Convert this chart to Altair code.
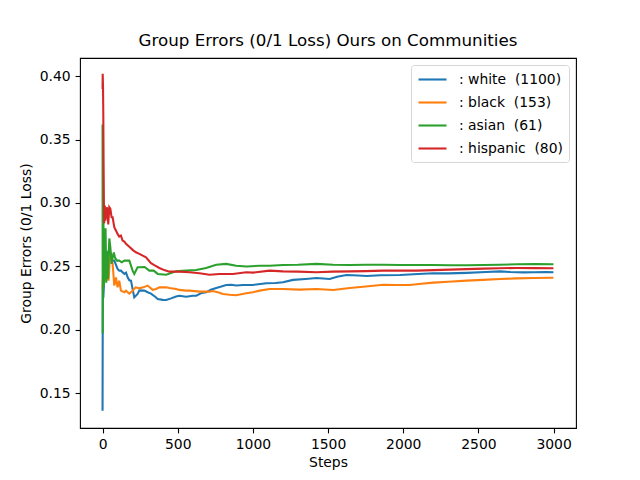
import altair as alt
import pandas as pd

# ---- data ----
white_steps = [0, 1, 2, 5, 11, 20, 33, 45, 56, 67, 78, 100, 111, 122, 145, 156, 167, 178, 189, 200,
               211, 233, 245, 278, 300, 322, 350, 367, 400, 423, 456, 489, 511, 556, 600, 623, 660,
               689, 720, 756, 790, 823, 856, 889, 934, 1000, 1050, 1089, 1150, 1200, 1267, 1350,
               1423, 1511, 1560, 1623, 1700, 1756, 1850, 1978, 2100, 2200, 2300, 2422, 2550, 2645,
               2711, 2800, 2867, 2950, 2999]
white_vals = [0.136, 0.197, 0.232, 0.225, 0.239, 0.245, 0.257, 0.265, 0.257, 0.2545, 0.2545, 0.248,
              0.2466, 0.2466, 0.244, 0.245, 0.2414, 0.239, 0.2387, 0.232, 0.2255, 0.2282, 0.231,
              0.2308, 0.2295, 0.2285, 0.226, 0.2242, 0.2235, 0.2234, 0.2247, 0.2262, 0.2268, 0.226,
              0.2268, 0.2268, 0.229, 0.2295, 0.2315, 0.2329, 0.234, 0.2353, 0.2355, 0.2348, 0.2353,
              0.2353, 0.236, 0.2366, 0.2368, 0.2374, 0.2393, 0.2400, 0.2408, 0.2400, 0.2418, 0.2432,
              0.2428, 0.2424, 0.243, 0.2432, 0.2440, 0.2445, 0.2444, 0.2448, 0.2455, 0.246, 0.2455,
              0.2452, 0.2453, 0.2455, 0.2453]

black_steps = [0, 4, 8, 11, 17, 22, 28, 33, 40, 48, 56, 67, 78, 89, 100, 111, 122, 145, 156, 178,
               200, 220, 245, 270, 300, 333, 356, 378, 423, 445, 489, 511, 556, 578, 645, 711, 734,
               778, 800, 845, 889, 956, 1000, 1045, 1111, 1200, 1311, 1423, 1533, 1645, 1750, 1867,
               1950, 2044, 2120, 2200, 2300, 2422, 2530, 2645, 2750, 2867, 2999]
black_vals = [0.232, 0.245, 0.235, 0.261, 0.2532, 0.2387, 0.2414, 0.2466, 0.2387, 0.255, 0.261,
              0.252, 0.2348, 0.2413, 0.2334, 0.2387, 0.2308, 0.2295, 0.2308, 0.2284, 0.2308, 0.2334,
              0.2326, 0.2334, 0.2348, 0.2314, 0.2321, 0.2334, 0.2334, 0.2329, 0.2321, 0.2314, 0.2308,
              0.2308, 0.2300, 0.2300, 0.2305, 0.2292, 0.2282, 0.2276, 0.2272, 0.2287, 0.2295, 0.2308,
              0.2321, 0.2321, 0.2316, 0.2321, 0.2313, 0.2329, 0.234, 0.2355, 0.2352, 0.2352, 0.2362,
              0.2371, 0.2378, 0.2387, 0.2393, 0.240, 0.2405, 0.2408, 0.241]

asian_steps = [0, 1, 2, 4, 6, 9, 12, 16, 20, 25, 30, 36, 45, 52, 60, 67, 75, 82, 95, 111, 128, 145,
               156, 178, 200, 211, 233, 245, 280, 311, 340, 367, 423, 489, 556, 623, 689, 756, 823,
               889, 956, 1045, 1111, 1200, 1300, 1423, 1533, 1645, 1750, 1867, 1980, 2089, 2200,
               2311, 2420, 2533, 2640, 2756, 2880, 2999]
asian_vals = [0.362, 0.197, 0.30, 0.24, 0.285, 0.235, 0.275, 0.24, 0.28, 0.237, 0.262, 0.24, 0.272,
              0.265, 0.2519, 0.2571, 0.261, 0.2571, 0.2545, 0.2545, 0.2532, 0.2545, 0.2545, 0.2545,
              0.2466, 0.244, 0.2492, 0.2492, 0.2495, 0.2466, 0.2466, 0.244, 0.2434, 0.246, 0.2466,
              0.2471, 0.2487, 0.2513, 0.2519, 0.2505, 0.2498, 0.2505, 0.2505, 0.2511, 0.2513, 0.2519,
              0.2513, 0.2511, 0.2512, 0.2513, 0.2511, 0.2511, 0.2510, 0.2508, 0.2509, 0.2511, 0.2513,
              0.2516, 0.2517, 0.2516]

hispanic_steps = [0, 1, 3, 5, 7, 9, 11, 15, 19, 24, 30, 38, 45, 52, 60, 67, 78, 89, 100, 111, 122,
                  133, 145, 156, 178, 200, 222, 245, 267, 289, 322, 350, 378, 410, 445, 511, 578,
                  645, 711, 778, 867, 956, 1000, 1111, 1200, 1300, 1423, 1530, 1645, 1750, 1867,
                  1980, 2089, 2200, 2311, 2420, 2533, 2640, 2756, 2880, 2999]
hispanic_vals = [0.390, 0.402, 0.392, 0.37, 0.33, 0.30, 0.284, 0.298, 0.286, 0.2917, 0.2966, 0.283,
                 0.2966, 0.2953, 0.2887, 0.2887, 0.2808, 0.2782, 0.2756, 0.2735, 0.2743, 0.2703,
                 0.2695, 0.2677, 0.2655, 0.2630, 0.2611, 0.2598, 0.2584, 0.2571, 0.2524, 0.2505,
                 0.2487, 0.2470, 0.2458, 0.2458, 0.2453, 0.2445, 0.2434, 0.2440, 0.2440, 0.2453,
                 0.2450, 0.2466, 0.2460, 0.2458, 0.2453, 0.2458, 0.2460, 0.2462, 0.2466, 0.2466,
                 0.2466, 0.2470, 0.2474, 0.2478, 0.2482, 0.2485, 0.2487, 0.2486, 0.2485]

group_labels = [": white\u00a0\u00a0(1100)", ": black\u00a0\u00a0(153)",
                ": asian\u00a0\u00a0(61)", ": hispanic\u00a0\u00a0(80)"]
group_colors = ["#1f77b4", "#ff7f0e", "#2ca02c", "#d62728"]
x_ticks = [0, 500, 1000, 1500, 2000, 2500, 3000]
y_ticks = [0.15, 0.20, 0.25, 0.30, 0.35, 0.40]

series = [(white_steps, white_vals), (black_steps, black_vals),
          (asian_steps, asian_vals), (hispanic_steps, hispanic_vals)]
rows = []
for label, (st, vs) in zip(group_labels, series):
    for s, v in zip(st, vs):
        rows.append({"step": s, "err": v, "group": label})
df = pd.DataFrame(rows)

FONT = "DejaVu Sans"

chart = alt.Chart(df).mark_line(strokeWidth=2.08).encode(
    x=alt.X("step:Q", scale=alt.Scale(domain=[-150, 3149], nice=False, zero=False),
            axis=alt.Axis(values=x_ticks, format="d", title="Steps", titlePadding=4,
                          labelFlush=False)),
    y=alt.Y("err:Q", scale=alt.Scale(domain=[0.1224, 0.4144], nice=False, zero=False),
            axis=alt.Axis(values=y_ticks, format=".2f", title="Group Errors (0/1 Loss)",
                          titlePadding=6, labelFlush=False)),
    color=alt.Color("group:N",
                    scale=alt.Scale(domain=group_labels, range=group_colors),
                    sort=group_labels,
                    legend=alt.Legend(title=None, orient="top-right", offset=7,
                                      symbolType="M-1,0H3", symbolSize=196,
                                      symbolStrokeWidth=2.1, labelFontSize=13.9,
                                      labelFont=FONT, labelColor="black", labelOffset=25,
                                      padding=6, rowPadding=7, strokeColor="#d6d6d6",
                                      fillColor="white", cornerRadius=3, labelLimit=400)),
    detail="group:N",
).properties(
    width=496, height=370,
    background="white",
    title=alt.TitleParams("Group Errors (0/1 Loss) Ours on Communities", fontSize=16.7,
                          font=FONT, fontWeight="normal", offset=8, color="black",
                          anchor="middle"),
    padding={"left": 72, "top": 50, "right": 56, "bottom": 45},
    autosize=alt.AutoSizeParams(type="none"),
).configure_view(
    stroke="black", strokeWidth=1.1
).configure_axis(
    domain=False, grid=False, tickColor="black", tickWidth=1.1, tickSize=4.9,
    labelFont=FONT, labelFontSize=13.9, labelColor="black", labelPadding=4.9,
    titleFont=FONT, titleFontSize=13.9, titleFontWeight="normal", titleColor="black"
)

chart.save("out.html", embed_options={"renderer": "svg", "actions": False})
